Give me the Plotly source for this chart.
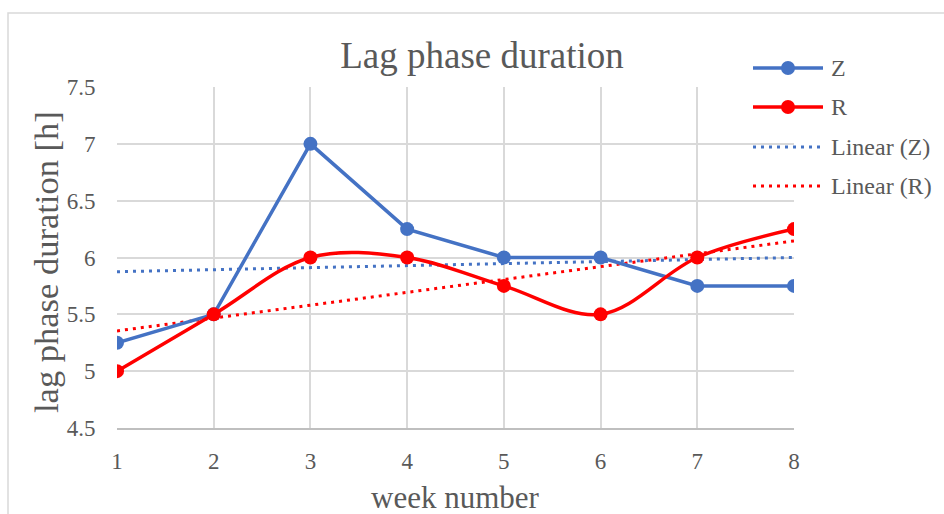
import numpy as np
import plotly.graph_objects as go

# ---- data ----
weeks = [1, 2, 3, 4, 5, 6, 7, 8]
z_vals = [5.25, 5.5, 7.0, 6.25, 6.0, 6.0, 5.75, 5.75]
r_vals = [5.0, 5.5, 6.0, 6.0, 5.75, 5.5, 6.0, 6.25]
series_names = ["Z", "R", "Linear (Z)", "Linear (R)"]
y_ticks = [4.5, 5, 5.5, 6, 6.5, 7, 7.5]
title_text = "Lag phase duration"
x_title = "week number"
y_title = "lag phase duration [h]"

BLUE = "#4472C4"
RED = "#FF0000"
GRID = "#D9D9D9"
TXT = "#595959"
FONT = "Liberation Serif, 'Times New Roman', serif"

# linear trend lines (least squares fit of the data)
xw = np.array(weeks, dtype=float)
zfit = np.polyfit(xw, np.array(z_vals), 1)
rfit = np.polyfit(xw, np.array(r_vals), 1)
trend_x = [weeks[0], weeks[-1]]
z_trend = [float(np.polyval(zfit, v)) for v in trend_x]
r_trend = [float(np.polyval(rfit, v)) for v in trend_x]

fig = go.Figure()
fig.add_trace(go.Scatter(x=trend_x, y=z_trend, mode="lines", name=series_names[2],
                         line=dict(color=BLUE, width=3, dash="3px,5px"), showlegend=False))
fig.add_trace(go.Scatter(x=trend_x, y=r_trend, mode="lines", name=series_names[3],
                         line=dict(color=RED, width=3, dash="3px,5px"), showlegend=False))
fig.add_trace(go.Scatter(x=weeks, y=z_vals, mode="lines+markers", name=series_names[0],
                         line=dict(color=BLUE, width=3.5),
                         marker=dict(color=BLUE, size=14), showlegend=False))
fig.add_trace(go.Scatter(x=weeks, y=r_vals, mode="lines+markers", name=series_names[1],
                         line=dict(color=RED, width=3.5, shape="spline", smoothing=1.0),
                         marker=dict(color=RED, size=14), showlegend=False))

# plot-area geometry in pixels (used for layout of legend/frame only)
L, R_, T, B = 117, 794, 87, 428
W, H = R_ - L, B - T
def px(xp):
    return (xp - L) / W
def py(yp):
    return (B - yp) / H

shapes = []
annotations = []
# outer chart frame
shapes.append(dict(type="rect", xref="paper", yref="paper",
                   x0=px(8), x1=px(1000), y0=py(530), y1=py(13),
                   line=dict(color="#D9D9D9", width=1.5), fillcolor="rgba(0,0,0,0)", layer="below"))

# custom legend
rows = [68, 107, 147, 186]
colors = [BLUE, RED, BLUE, RED]
for i, name in enumerate(series_names):
    yy = py(rows[i])
    if i < 2:
        shapes.append(dict(type="line", xref="paper", yref="paper",
                           x0=px(753), x1=px(823), y0=yy, y1=yy,
                           line=dict(color=colors[i], width=3.5)))
        shapes.append(dict(type="circle", xref="paper", yref="paper",
                           xsizemode="pixel", ysizemode="pixel",
                           xanchor=px(788), yanchor=yy, x0=-7, x1=7, y0=-7, y1=7,
                           fillcolor=colors[i], line=dict(color=colors[i], width=0)))
    else:
        shapes.append(dict(type="line", xref="paper", yref="paper",
                           x0=px(753), x1=px(823), y0=yy, y1=yy,
                           line=dict(color=colors[i], width=3, dash="3px,5px")))
    annotations.append(dict(text=name, xref="paper", yref="paper", x=px(829), y=yy,
                            xanchor="left", yanchor="middle", showarrow=False,
                            font=dict(family=FONT, size=24, color=TXT)))

# axis titles
annotations.append(dict(text=x_title, xref="paper", yref="paper", x=px(455.5), y=py(497),
                        xanchor="center", yanchor="middle", showarrow=False,
                        font=dict(family=FONT, size=31, color=TXT)))
annotations.append(dict(text=y_title, xref="paper", yref="paper", x=px(46), y=py(262),
                        xanchor="center", yanchor="middle", showarrow=False, textangle=-90,
                        font=dict(family=FONT, size=34.5, color=TXT)))

fig.update_layout(
    width=944, height=514,
    margin=dict(l=L, r=944 - R_, t=T, b=514 - B, autoexpand=False),
    paper_bgcolor="white", plot_bgcolor="white",
    title=dict(text=title_text, x=482 / 944, xanchor="center", xref="container",
               y=1 - 55 / 514, yanchor="middle", yref="container",
               font=dict(family=FONT, size=37, color=TXT)),
    shapes=shapes, annotations=annotations,
    showlegend=False,
)
fig.update_xaxes(range=[1, 8], tickvals=weeks, showgrid=True, gridcolor=GRID, gridwidth=1.5,
                 zeroline=False, showline=True, linecolor="#BFBFBF", linewidth=1.5,
                 ticks="outside", ticklen=12, tickcolor="rgba(0,0,0,0)",
                 tickfont=dict(family=FONT, size=23, color=TXT), fixedrange=True)
fig.update_yaxes(range=[4.5, 7.5], tickvals=y_ticks, ticktext=[f"{v:g}" for v in y_ticks],
                 showgrid=True, gridcolor=GRID, gridwidth=1.5,
                 zeroline=False, showline=False,
                 ticks="outside", ticklen=16, tickcolor="rgba(0,0,0,0)",
                 tickfont=dict(family=FONT, size=23, color=TXT), fixedrange=True)

fig.write_html("out.html")
